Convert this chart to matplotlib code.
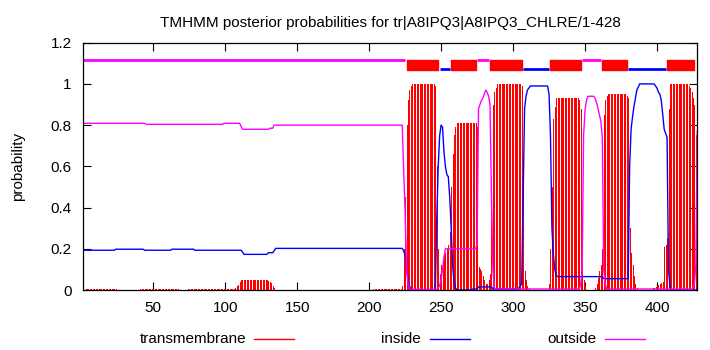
import numpy as np
import matplotlib.pyplot as plt
from matplotlib.lines import Line2D

title = "TMHMM posterior probabilities for tr|A8IPQ3|A8IPQ3_CHLRE/1-428"
seq_len = 428

# per-residue posterior probabilities (residues 1..428)
transmembrane = (
    [0.0] * 2 + [0.006] * 22 + [0.0] * 16 + [0.006] * 27 + [0.0] * 6 + [0.006] * 33
    + [0.012, 0.018, 0.025, 0.04] + [0.05] * 19 + [0.045, 0.04, 0.035, 0.02, 0.012]
    + [0.0] * 68 + [0.006] * 20
    + [0.02, 0.2, 0.45, 0.8, 0.92, 0.97, 0.99]
    + [1.0] * 16
    + [0.99, 0.6, 0.2, 0.08, 0.12, 0.15, 0.17, 0.18, 0.2, 0.22, 0.28, 0.5, 0.66, 0.75, 0.79]
    + [0.81] * 14
    + [0.79, 0.11, 0.1, 0.09, 0.07, 0.05, 0.03, 0.03, 0.05, 0.08, 0.5, 0.9, 0.96, 0.98]
    + [1.0] * 17
    + [0.99, 0.5, 0.09, 0.05, 0.02, 0.01]
    + [0.0] * 13
    + [0.03, 0.2, 0.5, 0.83, 0.89]
    + [0.93] * 16
    + [0.92, 0.88, 0.15, 0.05, 0.02]
    + [0.0] * 6
    + [0.01, 0.03, 0.06, 0.09, 0.12, 0.2, 0.85, 0.92, 0.94]
    + [0.95] * 13
    + [0.94, 0.93, 0.3, 0.18, 0.12, 0.07, 0.03, 0.01]
    + [0.0] * 10
    + [0.01, 0.01, 0.015, 0.02, 0.025, 0.03, 0.035, 0.04, 0.21, 0.22, 0.25, 0.88]
    + [1.0] * 13
    + [0.99, 0.98, 0.96, 0.93, 0.9, 0.75, 0.2]
)

inside = (
    [0.193] * 23 + [0.198] * 20 + [0.193] * 19 + [0.198] * 16 + [0.193] * 33
    + [0.185] + [0.173] * 17 + [0.181] * 4 + [0.19] + [0.202] * 89
    + [0.19, 0.17, 0.1, 0.05, 0.02, 0.005]
    + [0.0] * 16
    + [0.01, 0.35, 0.6, 0.75, 0.8, 0.79, 0.67, 0.6, 0.56, 0.55, 0.45, 0.3, 0.12, 0.04, 0.01]
    + [0.0] * 11
    + [0.005] * 4
    + [0.015] * 10
    + [0.005] * 18
    + [0.01, 0.02, 0.03, 0.45, 0.88, 0.94, 0.97, 0.98]
    + [0.99] * 13
    + [0.95, 0.75, 0.3, 0.17, 0.1, 0.07]
    + [0.065] * 32
    + [0.055] * 18
    + [0.6, 0.78, 0.84, 0.89, 0.93, 0.97, 0.985]
    + [1.0] * 11
    + [0.99, 0.98, 0.96, 0.95, 0.92, 0.85, 0.78, 0.76, 0.74, 0.1, 0.02]
    + [0.0] * 19
)

outside = (
    [0.809] * 44 + [0.804] * 54 + [0.809] * 12 + [0.795] + [0.78] * 19
    + [0.785] * 3 + [0.80] * 90
    + [0.58, 0.38, 0.1, 0.03, 0.005]
    + [0.003] * 19
    + [0.01, 0.02, 0.05, 0.1, 0.16, 0.2]
    + [0.2] * 21
    + [0.22, 0.88, 0.9, 0.92, 0.93, 0.95, 0.97, 0.96, 0.94, 0.9, 0.45, 0.1, 0.01]
    + [0.005] * 59
    + [0.03, 0.1, 0.75, 0.87, 0.92]
    + [0.94] * 5
    + [0.93, 0.91, 0.88, 0.85, 0.82, 0.74, 0.1, 0.03]
    + [0.005] * 61
    + [0.03, 0.12, 0.77]
)

# predicted topology shown above the curves
outside_segments = [(1, 225), (275, 283), (348, 361)]
inside_segments = [(249, 256), (307, 325), (380, 406)]
tm_segments = [(226, 248), (257, 274), (284, 306), (326, 347), (362, 379), (407, 426)]

residues = np.arange(1, seq_len + 1)

plt.rcParams['font.family'] = ['Liberation Sans', 'DejaVu Sans']
plt.rcParams['font.size'] = 11

fig = plt.figure(figsize=(7.1, 3.5), dpi=100)
ax = fig.add_axes([0.1165, 0.1714, 0.8656, 0.7066])

# one-pixel impulses, like gnuplot's "with impulses"
ax.vlines(residues, 0, transmembrane, color='#ff0000', linewidth=0.72, antialiased=False)
ax.plot(residues, inside, color='#0000ff', linewidth=1.0)
ax.plot(residues, outside, color='#ff00ff', linewidth=1.0)

for start, end in outside_segments:
    ax.hlines(1.117, start, end, color='#ff00ff', linewidth=2.0)
for start, end in inside_segments:
    ax.hlines(1.071, start, end, color='#0000ff', linewidth=2.0)
ax.broken_barh([(s, e - s) for s, e in tm_segments], (1.068, 0.049), color='#ff0000')

ax.set_xlim(1, seq_len)
ax.set_ylim(0, 1.2)
ax.set_xticks(np.arange(50, 401, 50))
ax.set_yticks(np.arange(0, 1.21, 0.2))
ax.set_yticklabels(['0', '0.2', '0.4', '0.6', '0.8', '1', '1.2'])
ax.tick_params(direction='in', length=6, width=0.8, top=True, right=True, pad=8)
for sp in ax.spines.values():
    sp.set_linewidth(0.9)

ax.set_title(title, fontsize=11, pad=11)
ax.set_ylabel('probability', labelpad=18)

# legend laid out in a row under the axis
legend_items = [('transmembrane', '#ff0000', 246, 254), ('inside', '#0000ff', 421, 430),
                ('outside', '#ff00ff', 597, 605)]
ly = 1 - 339 / 350
for label, color, text_x, line_x in legend_items:
    fig.text(text_x / 710, ly, label, ha='right', va='center', fontsize=11)
    fig.add_artist(Line2D([line_x / 710, (line_x + 40) / 710], [ly, ly],
                          color=color, linewidth=1.0, transform=fig.transFigure))

fig.savefig('out.png', dpi=100)
